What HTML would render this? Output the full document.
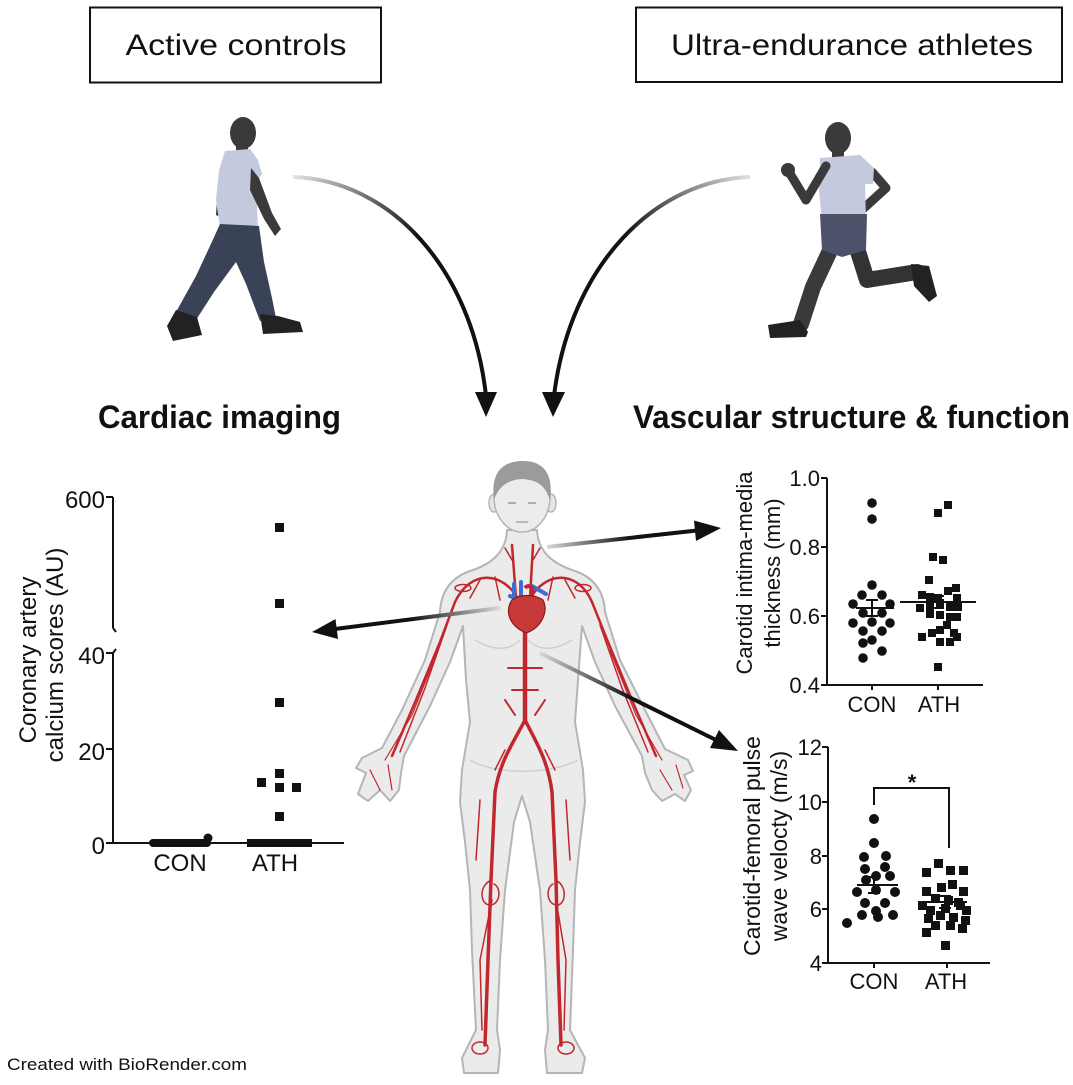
<!DOCTYPE html>
<html>
<head>
<meta charset="utf-8">
<style>
  html,body{margin:0;padding:0;background:#fff;}
  svg{display:block;}
  text{font-family:"Liberation Sans",Arial,sans-serif;fill:#111;}
</style>
</head>
<body>
<svg width="1073" height="1085" viewBox="0 0 1073 1085" xmlns="http://www.w3.org/2000/svg">
  <defs>
    <linearGradient id="gL" gradientUnits="userSpaceOnUse" x1="293" y1="177" x2="420" y2="235">
      <stop offset="0" stop-color="#e2e2e2"/>
      <stop offset="1" stop-color="#111"/>
    </linearGradient>
    <linearGradient id="gR" gradientUnits="userSpaceOnUse" x1="750" y1="177" x2="625" y2="235">
      <stop offset="0" stop-color="#e2e2e2"/>
      <stop offset="1" stop-color="#111"/>
    </linearGradient>
    <linearGradient id="g1" gradientUnits="userSpaceOnUse" x1="547" y1="547" x2="630" y2="538">
      <stop offset="0" stop-color="#d8d8d8"/>
      <stop offset="1" stop-color="#111"/>
    </linearGradient>
    <linearGradient id="g2" gradientUnits="userSpaceOnUse" x1="500" y1="608" x2="410" y2="620">
      <stop offset="0" stop-color="#d8d8d8"/>
      <stop offset="1" stop-color="#111"/>
    </linearGradient>
    <linearGradient id="g3" gradientUnits="userSpaceOnUse" x1="540" y1="653" x2="630" y2="698">
      <stop offset="0" stop-color="#d8d8d8"/>
      <stop offset="1" stop-color="#111"/>
    </linearGradient>
  </defs>

  <!-- Top boxes -->
  <rect x="90" y="7.5" width="291" height="75" fill="#fff" stroke="#111" stroke-width="2"/>
  <text x="236" y="55" font-size="30" text-anchor="middle" textLength="221" lengthAdjust="spacingAndGlyphs">Active controls</text>
  <rect x="636" y="7.5" width="426" height="74.5" fill="#fff" stroke="#111" stroke-width="2"/>
  <text x="852" y="55" font-size="30" text-anchor="middle" textLength="362" lengthAdjust="spacingAndGlyphs">Ultra-endurance athletes</text>

  <!-- Walker (active control) -->
  <g>
    <path d="M226,160 L218,185 L216,215 L222,218 L226,190 Z" fill="#343436"/>
    <ellipse cx="243" cy="133" rx="13" ry="16" fill="#3a3a3c"/>
    <rect x="236" y="142" width="12" height="14" fill="#3a3a3c"/>
    <path d="M225,151 L250,149 L258,160 L262,174 L256,182 L258,228 L220,228 L216,200 L219,170 Z" fill="#c5c9dd"/>
    <path d="M251,168 L259,178 L272,213 L281,229 L275,236 L264,219 L250,190 Z" fill="#3a3a3c"/>
    <path d="M220,224 L259,226 L264,262 L272,298 L276,318 L260,321 L246,284 L236,262 L214,292 L196,320 L176,312 L196,276 L210,246 Z" fill="#3a4257"/>
    <path d="M176,310 L197,317 L202,335 L173,341 L167,326 Z" fill="#222"/>
    <path d="M260,314 L278,316 L300,322 L303,332 L263,334 Z" fill="#222"/>
  </g>

  <!-- Runner (athlete) -->
  <g>
    <path d="M855,242 L867,280 L917,272" fill="none" stroke="#333335" stroke-width="16" stroke-linejoin="round" stroke-linecap="round"/>
    <path d="M872,172 L886,188 L864,208" fill="none" stroke="#3a3a3c" stroke-width="9" stroke-linejoin="round" stroke-linecap="round"/>
    <ellipse cx="838" cy="138" rx="13" ry="16" fill="#3a3a3c"/>
    <rect x="832" y="148" width="12" height="12" fill="#3a3a3c"/>
    <path d="M820,158 L860,155 L874,168 L873,184 L865,184 L866,221 L822,222 L819,190 Z" fill="#c5c9dd"/>
    <path d="M826,166 L806,200 L789,172" fill="none" stroke="#3a3a3c" stroke-width="9" stroke-linejoin="round" stroke-linecap="round"/>
    <circle cx="788" cy="170" r="7" fill="#3a3a3c"/>
    <path d="M834,242 L813,287 L801,324" fill="none" stroke="#3a3a3c" stroke-width="16" stroke-linejoin="round" stroke-linecap="round"/>
    <path d="M820,214 L867,214 L866,250 L842,257 L822,250 Z" fill="#4b5269"/>
    <path d="M768,325 L800,320 L808,332 L806,337 L770,338 Z" fill="#222"/>
    <path d="M911,264 L929,266 L937,296 L929,302 L914,286 Z" fill="#222"/>
  </g>

  <!-- Curved arrows from people -->
  <path d="M293,177 C390,180 472,268 486,396" fill="none" stroke="url(#gL)" stroke-width="4"/>
  <polygon points="475,392 497,392 486,417" fill="#111"/>
  <path d="M750,177 C655,180 570,265 554,396" fill="none" stroke="url(#gR)" stroke-width="4"/>
  <polygon points="542,392 565,392 553,417" fill="#111"/>

  <!-- Section headers -->
  <text x="98" y="428" font-size="32" font-weight="bold" textLength="243" lengthAdjust="spacingAndGlyphs">Cardiac imaging</text>
  <text x="633" y="428" font-size="32" font-weight="bold" textLength="437" lengthAdjust="spacingAndGlyphs">Vascular structure &amp; function</text>

  <!-- Body -->
  <g>
    <path d="M507,530 C506,552 492,564 470,571 C450,578 441,592 440,612 L425,660 L402,710 L382,748 L362,758 L356,768 L366,773 L358,794 L368,801 L380,790 L390,801 L399,790 L401,773 L404,756 L430,706 L450,662 L463,626 L466,680 L470,722 L462,770 L460,802 L465,842 L470,890 L472,950 L476,1030 L462,1058 L464,1073 L498,1073 L500,1050 L497,1030 L500,960 L505,890 L514,822 L522,796 L530,822 L540,890 L545,960 L548,1030 L545,1050 L547,1073 L582,1073 L585,1058 L570,1030 L573,950 L575,890 L580,842 L585,802 L583,770 L575,722 L578,680 L582,626 L595,662 L615,706 L642,756 L645,773 L652,790 L662,801 L675,794 L685,801 L691,790 L684,775 L693,771 L688,760 L665,749 L645,710 L620,660 L605,612 C604,592 595,578 575,571 C553,564 538,552 537,530 Z" fill="#ebebeb" stroke="#b5b5b5" stroke-width="2" stroke-linejoin="round"/>
    <path d="M475,640 C495,652 510,650 520,640 M528,640 C538,650 553,652 572,640 M470,760 C495,775 550,775 578,760" fill="none" stroke="#cfcfcf" stroke-width="1.5"/>
    <!-- head -->
    <ellipse cx="494" cy="503" rx="5" ry="9" fill="#e6e6e6" stroke="#b5b5b5" stroke-width="1.5"/>
    <ellipse cx="551" cy="503" rx="5" ry="9" fill="#e6e6e6" stroke="#b5b5b5" stroke-width="1.5"/>
    <ellipse cx="522" cy="497" rx="28" ry="35" fill="#ececec" stroke="#b5b5b5" stroke-width="1.5"/>
    <path d="M494,500 C490,470 505,461 523,461 C542,461 554,472 550,500 C546,488 540,480 522,479 C506,480 498,488 494,500 Z" fill="#9b9b9b"/>
    <path d="M508,503 L516,503 M528,503 L536,503" stroke="#999" stroke-width="1.5"/>
    <path d="M516,522 L528,522" stroke="#aaa" stroke-width="1.5"/>
    <!-- arteries -->
    <g fill="none" stroke="#c1272d" stroke-linecap="round" stroke-linejoin="round">
      <path d="M525,620 L525,722" stroke-width="4.5"/>
      <path d="M525,720 C515,740 500,760 495,792 L491,880 L488,960 L485,1045" stroke-width="3.5"/>
      <path d="M525,720 C535,740 548,760 552,792 L556,880 L558,960 L561,1045" stroke-width="3.5"/>
      <path d="M516,598 L512,545 M530,598 L533,545" stroke-width="2.5"/>
      <path d="M512,560 L505,548 M533,560 L540,548" stroke-width="1.5"/>
      <path d="M519,600 C502,570 470,570 455,602 L440,642 L416,700 L392,756" stroke-width="2.5"/>
      <path d="M529,600 C546,570 578,570 592,602 L608,642 L632,700 L656,756" stroke-width="2.5"/>
      <path d="M447,625 L425,688 L400,752 M600,625 L622,688 L648,752" stroke-width="1.5"/>
      <path d="M438,650 L412,715 L385,760 M610,650 L636,715 L662,760" stroke-width="1.2"/>
      <path d="M508,668 L542,668 M512,690 L538,690 M505,700 L515,715 M545,700 L535,715" stroke-width="2"/>
      <path d="M480,580 L470,598 M565,580 L575,598 M495,577 L500,600 M553,577 L548,600" stroke-width="1.5"/>
      <ellipse cx="463" cy="588" rx="8" ry="3.5" stroke-width="1.5"/>
      <ellipse cx="583" cy="588" rx="8" ry="3.5" stroke-width="1.5"/>
      <path d="M480,800 L476,860 M566,800 L570,860" stroke-width="1.5"/>
      <path d="M505,750 L495,770 M545,750 L555,770" stroke-width="1.5"/>
      <path d="M492,880 C478,885 480,905 490,905 C500,905 502,888 494,884 M555,880 C568,885 566,905 557,905 C547,905 545,888 553,884" stroke-width="1.5"/>
      <path d="M492,900 L480,960 L482,1030 M556,900 L566,960 L564,1030" stroke-width="1.5"/>
      <ellipse cx="480" cy="1048" rx="8" ry="6" stroke-width="1.5"/>
      <ellipse cx="566" cy="1048" rx="8" ry="6" stroke-width="1.5"/>
      <path d="M370,770 L380,790 M388,765 L392,790 M660,770 L672,790 M676,765 L683,788" stroke-width="1.2"/>
    </g>
    <!-- heart -->
    <path d="M514,584 L514,600 M521,582 L521,600 M532,586 L546,594 M510,596 L520,600" stroke="#3a6fd1" stroke-width="4" stroke-linecap="round"/>
    <path d="M525,588 C528,584 534,586 532,596" fill="none" stroke="#c1272d" stroke-width="4"/>
    <path d="M512,600 C504,612 510,626 526,633 C541,628 549,612 543,600 C534,594 520,594 512,600 Z" fill="#c83a3a" stroke="#8b1a1a" stroke-width="1.2"/>
  </g>

  <!-- Arrows from body -->
  <line x1="547" y1="547" x2="697" y2="530.5" stroke="url(#g1)" stroke-width="4"/>
  <polygon points="721,528 696,541 694,520.5" fill="#111"/>
  <line x1="500" y1="608" x2="335" y2="629" stroke="url(#g2)" stroke-width="4"/>
  <polygon points="312,632 338,639 335.5,619" fill="#111"/>
  <line x1="540" y1="653" x2="716" y2="740" stroke="url(#g3)" stroke-width="4"/>
  <polygon points="738,751 710,748 719,730" fill="#111"/>

  <!-- LEFT CHART: Coronary artery calcium -->
  <g stroke="#111" stroke-width="2" fill="none">
    <line x1="113" y1="497" x2="113" y2="628"/>
    <line x1="113" y1="653" x2="113" y2="844"/>
    <path d="M113,628 L116,632 M113,653 L116,649"/>
    <line x1="106" y1="497" x2="113" y2="497"/>
    <line x1="106" y1="653" x2="113" y2="653"/>
    <line x1="106" y1="749" x2="113" y2="749"/>
    <line x1="106" y1="843" x2="113" y2="843"/>
    <line x1="112" y1="843" x2="344" y2="843"/>
  </g>
  <text x="105" y="508" font-size="24" text-anchor="end">600</text>
  <text x="105" y="664" font-size="24" text-anchor="end">40</text>
  <text x="105" y="760" font-size="24" text-anchor="end">20</text>
  <text x="105" y="854" font-size="24" text-anchor="end">0</text>
  <text x="180" y="871" font-size="24" text-anchor="middle">CON</text>
  <text x="275" y="871" font-size="24" text-anchor="middle">ATH</text>
  <text transform="translate(36,660) rotate(-90)" font-size="24" text-anchor="middle">Coronary artery</text>
  <text transform="translate(63,655) rotate(-90)" font-size="24" text-anchor="middle">calcium scores (AU)</text>
  <line x1="153" y1="843" x2="207" y2="843" stroke="#111" stroke-width="8" stroke-linecap="round"/>
  <circle cx="208" cy="838" r="4.5" fill="#111"/>
  <rect x="247" y="839" width="65" height="8" fill="#111"/>
  <g fill="#111">
    <rect x="275" y="523" width="9" height="9"/>
    <rect x="275" y="599" width="9" height="9"/>
    <rect x="275" y="698" width="9" height="9"/>
    <rect x="275" y="769" width="9" height="9"/>
    <rect x="257" y="778" width="9" height="9"/>
    <rect x="275" y="783" width="9" height="9"/>
    <rect x="292" y="783" width="9" height="9"/>
    <rect x="275" y="812" width="9" height="9"/>
  </g>

  <!-- RIGHT TOP CHART: CIMT -->
  <g stroke="#111" stroke-width="2" fill="none">
    <line x1="827" y1="478" x2="827" y2="686"/>
    <line x1="826" y1="685" x2="983" y2="685"/>
    <line x1="821" y1="478" x2="827" y2="478"/>
    <line x1="821" y1="547" x2="827" y2="547"/>
    <line x1="821" y1="616" x2="827" y2="616"/>
    <line x1="821" y1="685" x2="827" y2="685"/>
    <line x1="872" y1="685" x2="872" y2="690"/>
    <line x1="938" y1="685" x2="938" y2="690"/>
  </g>
  <text x="820" y="486" font-size="22" text-anchor="end">1.0</text>
  <text x="820" y="555" font-size="22" text-anchor="end">0.8</text>
  <text x="820" y="624" font-size="22" text-anchor="end">0.6</text>
  <text x="820" y="693" font-size="22" text-anchor="end">0.4</text>
  <text x="872" y="712" font-size="22" text-anchor="middle">CON</text>
  <text x="939" y="712" font-size="22" text-anchor="middle">ATH</text>
  <text transform="translate(752,573) rotate(-90)" font-size="22" text-anchor="middle">Carotid intima-media</text>
  <text transform="translate(780,573) rotate(-90)" font-size="22" text-anchor="middle">thickness (mm)</text>
  <g fill="#111">
    <circle cx="872" cy="503" r="4.8"/><circle cx="872" cy="519" r="4.8"/>
    <circle cx="872" cy="585" r="4.8"/><circle cx="862" cy="595" r="4.8"/>
    <circle cx="882" cy="595" r="4.8"/><circle cx="853" cy="604" r="4.8"/>
    <circle cx="890" cy="604" r="4.8"/><circle cx="863" cy="613" r="4.8"/>
    <circle cx="882" cy="613" r="4.8"/><circle cx="853" cy="623" r="4.8"/>
    <circle cx="890" cy="623" r="4.8"/><circle cx="872" cy="622" r="4.8"/>
    <circle cx="863" cy="631" r="4.8"/><circle cx="882" cy="631" r="4.8"/>
    <circle cx="872" cy="640" r="4.8"/><circle cx="863" cy="643" r="4.8"/>
    <circle cx="882" cy="651" r="4.8"/><circle cx="863" cy="658" r="4.8"/>
  </g>
  <g fill="#111">
    <rect x="944" y="501" width="8" height="8"/><rect x="934" y="509" width="8" height="8"/>
    <rect x="929" y="553" width="8" height="8"/><rect x="939" y="556" width="8" height="8"/>
    <rect x="925" y="576" width="8" height="8"/><rect x="952" y="584" width="8" height="8"/>
    <rect x="944" y="587" width="8" height="8"/><rect x="918" y="591" width="8" height="8"/>
    <rect x="926" y="593" width="8" height="8"/><rect x="934" y="594" width="8" height="8"/>
    <rect x="953" y="594" width="8" height="8"/><rect x="916" y="604" width="8" height="8"/>
    <rect x="926" y="603" width="8" height="8"/><rect x="936" y="599" width="8" height="8"/>
    <rect x="946" y="603" width="8" height="8"/><rect x="954" y="603" width="8" height="8"/>
    <rect x="926" y="610" width="8" height="8"/><rect x="936" y="611" width="8" height="8"/>
    <rect x="946" y="613" width="8" height="8"/><rect x="953" y="613" width="8" height="8"/>
    <rect x="943" y="621" width="8" height="8"/><rect x="936" y="626" width="8" height="8"/>
    <rect x="950" y="629" width="8" height="8"/><rect x="928" y="629" width="8" height="8"/>
    <rect x="918" y="633" width="8" height="8"/><rect x="936" y="638" width="8" height="8"/>
    <rect x="946" y="638" width="8" height="8"/><rect x="953" y="633" width="8" height="8"/>
    <rect x="934" y="663" width="8" height="8"/>
  </g>
  <g stroke="#111" stroke-width="2">
    <line x1="856" y1="608" x2="894" y2="608"/>
    <line x1="872" y1="600" x2="872" y2="616"/>
    <line x1="866" y1="600" x2="878" y2="600"/>
    <line x1="866" y1="616" x2="878" y2="616"/>
    <line x1="900" y1="602" x2="976" y2="602"/>
    <line x1="938" y1="596" x2="938" y2="608"/>
    <line x1="932" y1="596" x2="944" y2="596"/>
    <line x1="932" y1="608" x2="944" y2="608"/>
  </g>

  <!-- RIGHT BOTTOM CHART: PWV -->
  <g stroke="#111" stroke-width="2" fill="none">
    <line x1="828" y1="747" x2="828" y2="964"/>
    <line x1="827" y1="963" x2="990" y2="963"/>
    <line x1="822" y1="747" x2="828" y2="747"/>
    <line x1="822" y1="802" x2="828" y2="802"/>
    <line x1="822" y1="856" x2="828" y2="856"/>
    <line x1="822" y1="909" x2="828" y2="909"/>
    <line x1="822" y1="963" x2="828" y2="963"/>
    <line x1="874" y1="963" x2="874" y2="968"/>
    <line x1="947" y1="963" x2="947" y2="968"/>
    <path d="M874,805 V788 H949 V848"/>
  </g>
  <text x="912" y="790" font-size="22" text-anchor="middle" font-weight="bold">*</text>
  <text x="822" y="755" font-size="22" text-anchor="end">12</text>
  <text x="822" y="810" font-size="22" text-anchor="end">10</text>
  <text x="822" y="864" font-size="22" text-anchor="end">8</text>
  <text x="822" y="917" font-size="22" text-anchor="end">6</text>
  <text x="822" y="971" font-size="22" text-anchor="end">4</text>
  <text x="874" y="989" font-size="22" text-anchor="middle">CON</text>
  <text x="946" y="989" font-size="22" text-anchor="middle">ATH</text>
  <text transform="translate(760,846) rotate(-90)" font-size="23" text-anchor="middle">Carotid-femoral pulse</text>
  <text transform="translate(787,846) rotate(-90)" font-size="23" text-anchor="middle">wave velocty (m/s)</text>
  <g fill="#111">
    <circle cx="874" cy="819" r="5"/><circle cx="874" cy="843" r="5"/>
    <circle cx="864" cy="857" r="5"/><circle cx="886" cy="856" r="5"/>
    <circle cx="865" cy="869" r="5"/><circle cx="885" cy="867" r="5"/>
    <circle cx="876" cy="876" r="5"/><circle cx="890" cy="876" r="5"/>
    <circle cx="866" cy="880" r="5"/><circle cx="857" cy="892" r="5"/>
    <circle cx="876" cy="890" r="5"/><circle cx="895" cy="892" r="5"/>
    <circle cx="865" cy="903" r="5"/><circle cx="885" cy="903" r="5"/>
    <circle cx="876" cy="911" r="5"/><circle cx="862" cy="915" r="5"/>
    <circle cx="893" cy="915" r="5"/><circle cx="847" cy="923" r="5"/>
    <circle cx="878" cy="917" r="5"/>
  </g>
  <g fill="#111">
    <rect x="922" y="868" width="9" height="9"/><rect x="934" y="859" width="9" height="9"/>
    <rect x="946" y="866" width="9" height="9"/><rect x="959" y="866" width="9" height="9"/>
    <rect x="922" y="887" width="9" height="9"/><rect x="937" y="883" width="9" height="9"/>
    <rect x="948" y="880" width="9" height="9"/><rect x="959" y="887" width="9" height="9"/>
    <rect x="931" y="894" width="9" height="9"/><rect x="944" y="896" width="9" height="9"/>
    <rect x="954" y="898" width="9" height="9"/><rect x="918" y="901" width="9" height="9"/>
    <rect x="926" y="906" width="9" height="9"/><rect x="941" y="904" width="9" height="9"/>
    <rect x="956" y="901" width="9" height="9"/><rect x="962" y="906" width="9" height="9"/>
    <rect x="924" y="914" width="9" height="9"/><rect x="936" y="911" width="9" height="9"/>
    <rect x="949" y="913" width="9" height="9"/><rect x="961" y="916" width="9" height="9"/>
    <rect x="931" y="921" width="9" height="9"/><rect x="946" y="921" width="9" height="9"/>
    <rect x="958" y="924" width="9" height="9"/><rect x="922" y="928" width="9" height="9"/>
    <rect x="941" y="941" width="9" height="9"/>
  </g>
  <g stroke="#111" stroke-width="2">
    <line x1="857" y1="885" x2="898" y2="885"/>
    <line x1="874" y1="877" x2="874" y2="893"/>
    <line x1="868" y1="877" x2="880" y2="877"/>
    <line x1="868" y1="893" x2="880" y2="893"/>
    <line x1="923" y1="902" x2="967" y2="902"/>
    <line x1="945" y1="896" x2="945" y2="908"/>
    <line x1="939" y1="896" x2="951" y2="896"/>
    <line x1="939" y1="908" x2="951" y2="908"/>
  </g>

  <!-- Footer -->
  <text x="7" y="1070" font-size="17" textLength="240" lengthAdjust="spacingAndGlyphs">Created with BioRender.com</text>
</svg>
</body>
</html>
